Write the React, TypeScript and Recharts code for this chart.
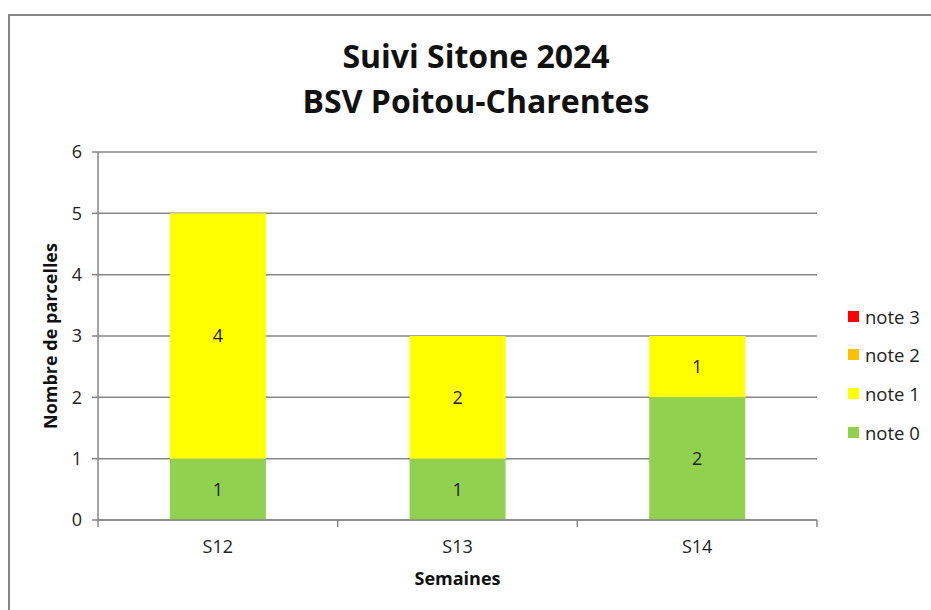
import React from "react";
import { BarChart, Bar, XAxis, YAxis, CartesianGrid, Legend, LabelList } from "recharts";

const weeks = ["S12", "S13", "S14"];
const note0 = [1, 1, 2];
const note1 = [4, 2, 1];
const note2 = [0, 0, 0];
const note3 = [0, 0, 0];
const yTicks = [0, 1, 2, 3, 4, 5, 6];
const seriesNames = ["note 0", "note 1", "note 2", "note 3"];
const seriesColors = ["#92D050", "#FFFF00", "#FFC000", "#FF0000"];

const data = weeks.map((w, i) => ({
  week: w,
  "note 0": note0[i],
  "note 1": note1[i],
  "note 2": note2[i],
  "note 3": note3[i],
}));

const FONT = "'Open Sans', 'DejaVu Sans', sans-serif";
const AXIS = "#868686";

const LegendContent = () => (
  <div style={{ fontFamily: FONT, fontSize: 18.5, color: "#222" }}>
    {[3, 2, 1, 0].map((k) => (
      <div key={k} style={{ display: "flex", alignItems: "center", height: 38.6 }}>
        <span style={{ width: 11, height: 11, background: seriesColors[k], display: "inline-block", marginRight: 6 }} />
        <span>{seriesNames[k]}</span>
      </div>
    ))}
  </div>
);

const hideZero = (v: any) => (v === 0 ? "" : v);

const CatTick = (props: any) => {
  const { x, y, payload, index, visibleTicksCount } = props;
  const half = payload && payload.offset ? payload.offset : 0;
  const last = index === (visibleTicksCount ?? weeks.length) - 1;
  return (
    <g>
      <line x1={x - half} x2={x - half} y1={y} y2={y + 7} stroke={AXIS} strokeWidth={1.5} />
      {last && <line x1={x + half} x2={x + half} y1={y} y2={y + 7} stroke={AXIS} strokeWidth={1.5} />}
      <text x={x} y={y + 20} dy="0.71em" textAnchor="middle" fontFamily={FONT} fontSize={18} fill="#222">
        {payload.value}
      </text>
    </g>
  );
};

export default function App() {
  return (
    <div style={{ position: "absolute", left: 0, top: 0, width: 931, height: 610, overflow: "hidden", background: "#fff" }}>
      <div style={{ position: "absolute", left: 8, top: 14, width: 960, height: 640, border: "2px solid #868686" }} />
      <div style={{ position: "absolute", left: 0, width: 952, top: 33, textAlign: "center", fontFamily: FONT, fontWeight: 700, fontSize: 32, lineHeight: "45px", color: "#111" }}>
        Suivi Sitone 2024
        <br />
        BSV Poitou-Charentes
      </div>
      <div style={{ position: "absolute", left: 0, top: 0 }}>
        <BarChart
          width={931}
          height={610}
          data={data}
          margin={{ top: 152, right: 24, bottom: 60, left: 68 }}
          barCategoryGap="30%"
        >
          <CartesianGrid vertical={false} stroke={AXIS} strokeWidth={1.5} />
          <XAxis
            dataKey="week"
            stroke={AXIS}
            strokeWidth={1.5}
            tickLine={false}
            tickSize={0}
            tickMargin={0}
            height={30}
            tick={<CatTick />}
            interval={0}
          />
          <YAxis
            domain={[0, 6]}
            ticks={yTicks}
            width={30}
            tickSize={6}
            tickMargin={10}
            stroke={AXIS}
            strokeWidth={1.5}
            tick={{ fontFamily: FONT, fontSize: 18, fill: "#222" }}
          />
          <Legend
            layout="vertical"
            align="right"
            verticalAlign="top"
            content={<LegendContent />}
            wrapperStyle={{ left: 848, top: 297, width: 90 }}
          />
          {seriesNames.map((s, k) => (
            <Bar key={s} dataKey={s} stackId="a" fill={seriesColors[k]} isAnimationActive={false}>
              <LabelList dataKey={s} position="center" formatter={hideZero} style={{ fontFamily: FONT, fontSize: 18, fill: "#222" }} />
            </Bar>
          ))}
        </BarChart>
      </div>
      <div style={{ position: "absolute", left: 98, width: 719, top: 566, textAlign: "center", fontFamily: FONT, fontWeight: 700, fontSize: 18, color: "#111" }}>
        Semaines
      </div>
      <div style={{ position: "absolute", left: 50, top: 336, width: 0, height: 0 }}>
        <div style={{ position: "absolute", left: -120, top: -13, width: 240, textAlign: "center", transform: "rotate(-90deg)", fontFamily: FONT, fontWeight: 700, fontSize: 18, lineHeight: "26px", color: "#111", whiteSpace: "nowrap" }}>
          Nombre de parcelles
        </div>
      </div>
    </div>
  );
}
